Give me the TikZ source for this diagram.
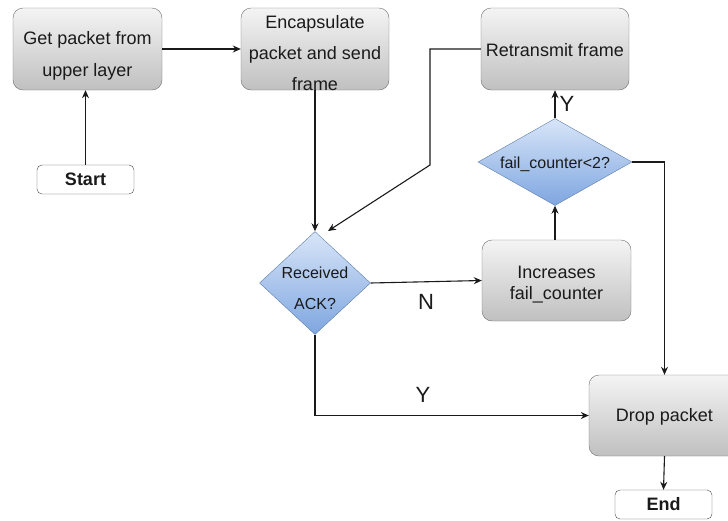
\documentclass[tikz,border=0pt]{standalone}
\usepackage{fontspec}
\setmainfont{Liberation Sans}
\usetikzlibrary{shapes.geometric,arrows.meta}
\definecolor{boxtop}{HTML}{F4F4F4}
\definecolor{boxbot}{HTML}{C0C0C0}
\definecolor{dectop}{HTML}{D8E5F8}
\definecolor{decbot}{HTML}{7EA6E0}
\definecolor{edge}{HTML}{6E6E6E}
\definecolor{ink}{HTML}{1A1A1A}

\begin{document}
\begin{tikzpicture}[x=1pt,y=-1pt,
  box/.style={draw=edge,rounded corners=10pt,top color=boxtop,bottom color=boxbot,
    minimum width=149pt,minimum height=82pt,inner sep=0pt,align=center,
    font=\fontsize{18}{32}\selectfont,text=ink},
  boxtext/.style={inner sep=0pt,align=center,text=ink},
  term/.style={draw=ink!80,rounded corners=5pt,fill=white,minimum width=97pt,
    minimum height=29pt,inner sep=0pt,text=ink,font=\bfseries\fontsize{18}{20}\selectfont},
  dec/.style={diamond,draw=decbot!75!black,top color=dectop,bottom color=decbot,inner sep=0pt},
  dectext/.style={inner sep=0pt,align=center,text=ink,font=\fontsize{16}{31}\selectfont},
  flow/.style={draw=ink,line width=1.1pt,-{Stealth[length=8pt,width=7pt]}},
  tag/.style={inner sep=0pt,text=ink,font=\fontsize{22}{24}\selectfont}]

\useasboundingbox (0,0) rectangle (728,520);

% process boxes
\node[box] (get) at (87.5,49) {};
\node[boxtext,font=\fontsize{18}{32}\selectfont] (gettxt) at (87.5,56) {Get packet from\\upper layer};
\node[box,minimum width=148pt] (encap) at (315,49) {};
\node[boxtext,font=\fontsize{18}{31}\selectfont] (encaptxt) at (315,53) {Encapsulate\\packet and send\\frame};
\node[box,minimum width=148pt] (retx) at (555,49) {};
\node[boxtext,font=\fontsize{18}{20}\selectfont] (retxtxt) at (555,50) {Retransmit frame};
\node[box,minimum height=81pt] (incr) at (556.5,280.5) {};
\node[boxtext,font=\fontsize{18}{21}\selectfont] (incrtxt) at (556.5,284.5) {Increases\\fail\_counter};
\node[box,minimum width=151pt,minimum height=81pt] (drop) at (664.5,415.5) {};
\node[boxtext,font=\fontsize{18}{20}\selectfont] (droptxt) at (664.5,416.5) {Drop packet};

% terminals
\node[term] (start) at (85.5,179.5) {Start};
\node[term] (end) at (663.5,504.5) {End};

% decisions
\node[dec,minimum width=111pt,minimum height=103pt] (recv) at (315,283) {};
\node[dectext] (recvtxt) at (315,288) {Received\\ACK?};
\node[dec,minimum width=154pt,minimum height=87pt] (fail) at (555,162) {};
\node[dectext] (failtxt) at (555,164) {fail\_counter<2?};

% bend points of the retransmit loop
\coordinate (loopup) at (430,49);
\coordinate (loopdown) at (430,165);
\coordinate (loopin) at (328,231);

% connectors
\draw[flow] (start.north) -- (start.north |- get.south);
\draw[flow] (get.east) -- (encap.west);
\draw[flow] (encap.south) -- (recv.north);
\draw[flow] (retx.west) -- (loopup) -- (loopdown) -- (loopin);
\draw[flow] (recv.east) -- (incr.west);
\draw[flow] (incr.north -| fail.south) -- (fail.south);
\draw[flow] (fail.north) -- (retx.south);
\draw[flow] (fail.east) -| (drop.north);
\draw[flow] (recv.south) |- (drop.west);
\draw[flow] (drop.south) -- (end.north);

% branch labels
\node[tag] (ytop) at (567,104) {Y};
\node[tag] (nlab) at (426,302) {N};
\node[tag] (ybot) at (423,395) {Y};
\end{tikzpicture}
\end{document}
